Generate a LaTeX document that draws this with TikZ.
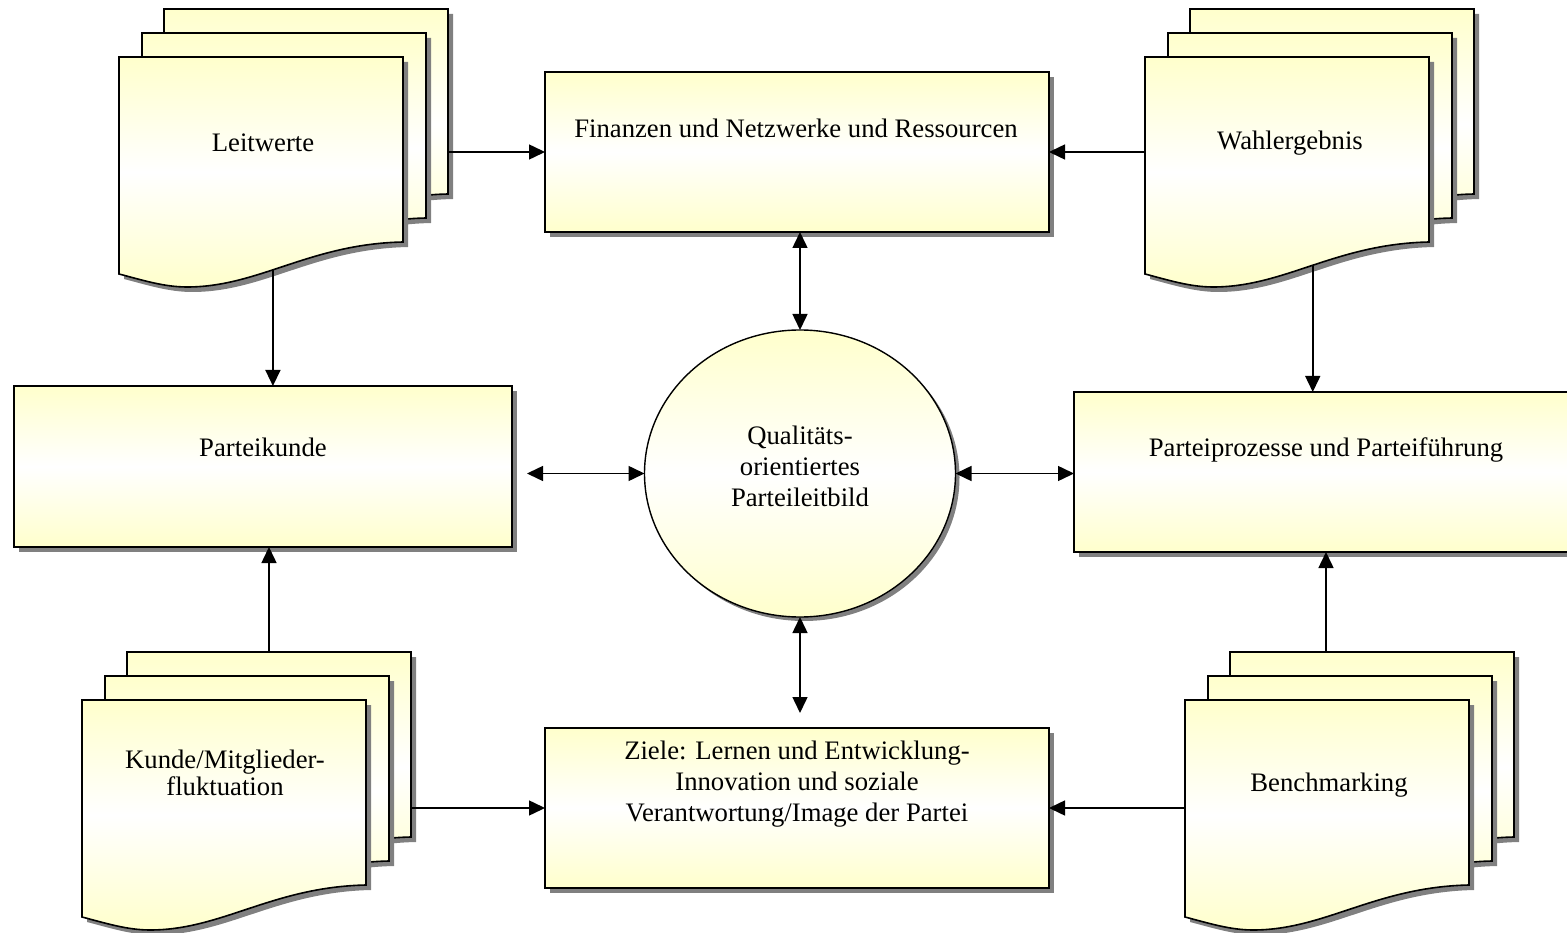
\documentclass[tikz,border=0pt]{standalone}
\usepackage{fontspec}
\setmainfont{Liberation Serif}
\usetikzlibrary{shapes.geometric,arrows.meta}

\definecolor{paleyellow}{RGB}{255,255,204}
\definecolor{shadowgray}{RGB}{128,128,128}

\pgfdeclarelayer{background}
\pgfsetlayers{background,main}

\tikzset{
  fillshade/.style={top color=paleyellow, bottom color=paleyellow, middle color=white},
  sheet/.style={fillshade, draw=black, line width=1.6pt, line join=miter},
  sheetshadow/.style={fill=shadowgray},
  sheetframe/.style={rectangle, minimum width=284pt, minimum height=185pt,
    inner sep=0pt, outer sep=0pt},
  box/.style={rectangle, draw=black, line width=1.6pt, fillshade,
    minimum width=504pt, minimum height=160pt, inner sep=0pt, outer sep=0pt},
  lbl/.style={font=\fontsize{26.7}{31}\selectfont, align=center, inner sep=0pt},
  tip/.tip={Triangle[length=16pt,width=15pt]},
  conn/.style={line width=1.5pt, -tip},
  biconn/.style={line width=1.5pt, tip-tip},
  % a stack of three document sheets; #1 = curve parameter of the wave anchor
  pics/docstack/.style={code={
    \foreach \dx/\dy in {45/-48, 23/-24, 0/0}{
      \begin{scope}[shift={(\dx,\dy)}]
        \fill[sheetshadow] (5,5) -- (289,5) -- (289,190)
          .. controls (195,192) and (145,235) .. (73,235)
          .. controls (50,235) and (28,228) .. (5,222) -- cycle;
        \path[sheet] (0,0) -- (284,0) -- (284,185)
          .. controls (190,187) and (140,230) .. (68,230)
          .. controls (45,230) and (23,223) .. (0,217) -- cycle;
      \end{scope}
    }
    \path (284,185) .. controls (190,187) and (140,230) .. (68,230)
      coordinate[pos=#1] (-wave);
    \node[sheetframe] (-front) at (142,92.5) {};
    \node[sheetframe] (-mid) at (165,68.5) {};
    \node[sheetframe] (-back) at (187,44.5) {};
  }},
}

\begin{document}
\begin{tikzpicture}[x=1pt, y=-1pt]
  \useasboundingbox (0,0) rectangle (1567,933);
  \clip (0,0) rectangle (1567,933);

  % document stacks
  \pic (lw) at (119,57) {docstack=0.57};
  \pic (wg) at (1145,57) {docstack=0.5};
  \pic (kd) at (82,700) {docstack=0.5};
  \pic (bm) at (1185,700) {docstack=0.5};

  \node[lbl] (lw-t) at (263,143) {Leitwerte};
  \node[lbl] (wg-t) at (1290,143) {Wahlergebnis};
  \node[lbl, font=\fontsize{26.7}{27}\selectfont] (kd-t) at (225,773) {Kunde/Mitglieder-\\fluktuation};
  \node[lbl] (bm-t) at (1329,785) {Benchmarking};

  % process boxes
  \node[box] (fin) at (797,152) {};
  \node[box, minimum width=498pt, minimum height=161pt] (pk) at (263,466.5) {};
  \node[box] (pp) at (1326,472) {};
  \node[box] (zl) at (797,808) {};

  \node[lbl] (fin-t) at (796,128) {Finanzen und Netzwerke und Ressourcen};
  \node[lbl] (pk-t) at (263,447) {Parteikunde};
  \node[lbl] (pp-t) at (1326,450) {Parteiprozesse und Parteiführung};
  \node[lbl] (zl-t) at (797,784) {Ziele: Lernen und Entwicklung-\\Innovation und soziale\\Verantwortung/Image der Partei};

  % central ellipse
  \node[ellipse, draw=black, line width=1.4pt, fillshade, minimum width=311pt,
    minimum height=287pt, inner sep=0pt, outer sep=0pt] (ell) at (800,473.5) {};
  \node[lbl] (ell-t) at (800,466) {Qualitäts-\\orientiertes\\Parteileitbild};

  % drop shadows
  \begin{pgfonlayer}{background}
    \foreach \b in {fin,pk,pp,zl}
      \fill[shadowgray] ([xshift=5pt,yshift=-5pt]\b.south west)
        rectangle ([xshift=5pt,yshift=-5pt]\b.north east);
    \fill[shadowgray] ([xshift=4pt,yshift=-4pt]ell.center)
      ellipse [x radius=155.5pt, y radius=143.5pt];
  \end{pgfonlayer}

  % connectors
  \draw[conn] (lw-back.east |- fin.west) -- (fin.west);
  \draw[conn] (wg-front.west |- fin.east) -- (fin.east);
  \draw[biconn] (ell.north |- fin.south) -- (ell.north);
  \draw[conn] (lw-wave) -- (lw-wave |- pk.north);
  \draw[conn] (wg-wave) -- (wg-wave |- pp.north);
  \draw[biconn, shorten <=15pt] (pk.east |- ell.west) -- (ell.west);
  \draw[biconn] (ell.east) -- (ell.east -| pp.west);
  \draw[biconn, shorten >=15pt] (ell.south) -- (ell.south |- zl.north);
  \draw[conn] (kd-back.north) -- (kd-back.north |- pk.south);
  \draw[conn] (pp.south |- bm-back.north) -- (pp.south);
  \draw[conn] (kd-back.east |- zl.west) -- (zl.west);
  \draw[conn] (bm-front.west |- zl.east) -- (zl.east);
\end{tikzpicture}
\end{document}
